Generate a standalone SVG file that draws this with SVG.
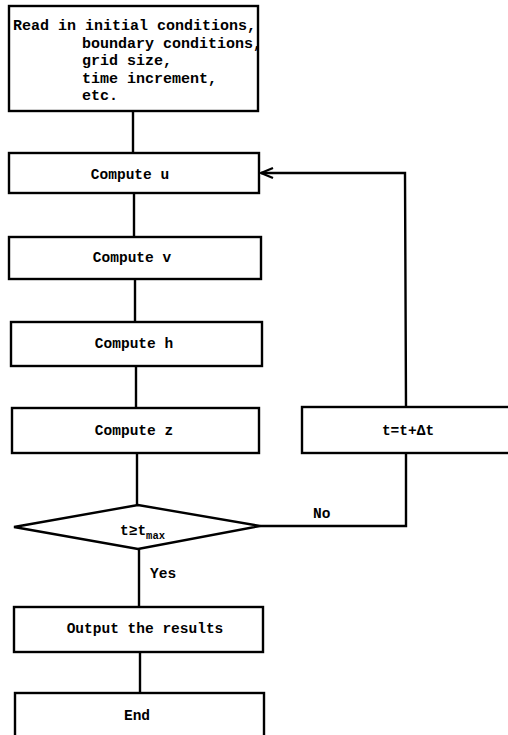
<svg xmlns="http://www.w3.org/2000/svg" width="508" height="735" viewBox="0 0 508 735">
<style>
.box{fill:#fff;stroke:#000;stroke-width:2.4}
.ln{fill:none;stroke:#000;stroke-width:2.4}
text{font-family:"Liberation Mono","DejaVu Sans Mono",monospace;font-weight:bold;font-size:14.5px;fill:#000}
.c{text-anchor:middle}
.top{font-size:15px}
</style>
<defs>
<marker id="arr" viewBox="0 0 14 12" refX="13" refY="6" markerWidth="14" markerHeight="12" markerUnits="userSpaceOnUse" orient="auto">
<path d="M1,1 L13,6 L1,11" fill="none" stroke="#000" stroke-width="2.2"/>
</marker>
</defs>
<g id="read">
<rect class="box" x="9" y="6" width="249" height="105"/>
<text class="top" x="13" y="30">Read in initial conditions,</text>
<text class="top" x="82" y="47.5">boundary conditions,</text>
<text class="top" x="82" y="65">grid size,</text>
<text class="top" x="82" y="82.5">time increment,</text>
<text class="top" x="82" y="100">etc.</text>
</g>
<g id="compute-u">
<rect class="box" x="9" y="153" width="250" height="40"/>
<text class="c" x="130" y="179">Compute u</text>
</g>
<g id="compute-v">
<rect class="box" x="9" y="237" width="252" height="42"/>
<text class="c" x="132" y="262">Compute v</text>
</g>
<g id="compute-h">
<rect class="box" x="11" y="322" width="251" height="44"/>
<text class="c" x="134" y="348">Compute h</text>
</g>
<g id="compute-z">
<rect class="box" x="12" y="408" width="247" height="45"/>
<text class="c" x="134" y="435">Compute z</text>
</g>
<g id="increment">
<rect class="box" x="302" y="407" width="212" height="46"/>
<text class="c" x="408" y="435">t=t+Δt</text>
</g>
<g id="decision">
<polygon class="box" points="14,527 138,505 260,526 138,549"/>
<text x="120" y="535">t≥t<tspan font-size="10.5px" dy="4">max</tspan></text>
</g>
<g id="output">
<rect class="box" x="14" y="607" width="249" height="45"/>
<text class="c" x="145" y="633">Output the results</text>
</g>
<g id="end">
<rect class="box" x="15" y="693" width="249" height="52"/>
<text class="c" x="137" y="720">End</text>
</g>
<g id="connectors">
<line class="ln" x1="133" y1="111" x2="133" y2="153"/>
<line class="ln" x1="134" y1="193" x2="134" y2="237"/>
<line class="ln" x1="135" y1="279" x2="135" y2="322"/>
<line class="ln" x1="136" y1="366" x2="136" y2="408"/>
<line class="ln" x1="137" y1="453" x2="137" y2="505"/>
<line class="ln" x1="139" y1="549" x2="139" y2="607"/>
<line class="ln" x1="140" y1="652" x2="140" y2="693"/>
<polyline class="ln" points="260,526 406,526 406,453"/>
<polyline class="ln" points="406,407 405,173 261,173" marker-end="url(#arr)"/>
<text x="313" y="518">No</text>
<text x="150" y="578">Yes</text>
</g>
</svg>
